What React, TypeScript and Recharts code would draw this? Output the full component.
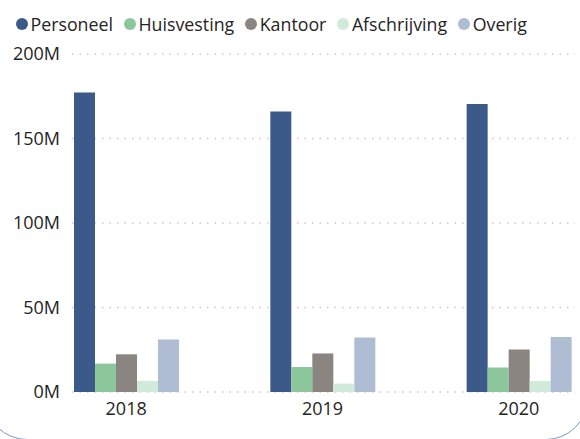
import React from "react";
import { BarChart, Bar, XAxis, YAxis, CartesianGrid } from "recharts";

const years = ["2018", "2019", "2020"];
const personeel = [177.2, 166.0, 170.4];
const huisvesting = [16.8, 14.8, 14.5];
const kantoor = [22.3, 22.8, 25.1];
const afschrijving = [6.5, 5.0, 6.5];
const overig = [31.1, 32.2, 32.6];
const yTicks = [0, 50, 100, 150, 200];

const seriesNames = ["Personeel", "Huisvesting", "Kantoor", "Afschrijving", "Overig"];
const seriesColors = ["#3b5a8a", "#8cc79b", "#8b8581", "#d2eada", "#afbdd4"];
const seriesValues = [personeel, huisvesting, kantoor, afschrijving, overig];

const data = years.map((y, i) => {
  const row: Record<string, number | string> = { year: y };
  seriesNames.forEach((n, s) => {
    row[n] = seriesValues[s][i] * 1e6;
  });
  return row;
});

const FONT = "'Open Sans', 'Segoe UI', sans-serif";

export default function App() {
  return (
    <div
      style={{
        position: "absolute",
        left: 0,
        top: 0,
        width: 580,
        height: 439,
        overflow: "hidden",
        background: "#ffffff",
        fontFamily: FONT,
      }}
    >
      <div
        style={{
          position: "absolute",
          left: -15,
          top: -60,
          width: 603,
          height: 500,
          border: "1.5px solid #7d98bf",
          borderRadius: 42,
          boxSizing: "border-box",
        }}
      />
      <div
        style={{
          position: "absolute",
          left: 16,
          top: 13,
          display: "flex",
          alignItems: "center",
          fontSize: 17.8,
          color: "#252423",
          whiteSpace: "nowrap",
        }}
      >
        {seriesNames.map((n, i) => (
          <div key={n} style={{ display: "flex", alignItems: "center", marginRight: 11 }}>
            <span
              style={{
                display: "inline-block",
                width: 12,
                height: 12,
                borderRadius: 6,
                background: seriesColors[i],
                marginRight: 2.5,
              }}
            />
            <span style={{ lineHeight: "22px" }}>{n}</span>
          </div>
        ))}
      </div>
      <div style={{ position: "absolute", left: 0, top: 0 }}>
        <BarChart
          width={580}
          height={439}
          data={data}
          margin={{ top: 54, right: 5, bottom: 17, left: 0 }}
          barCategoryGap={46}
          barGap={0}
        >
          <CartesianGrid
            vertical={false}
            stroke="#c9c9c9"
            strokeDasharray="1.5 6"
            strokeWidth={1.5}
          />
          <XAxis
            dataKey="year"
            axisLine={false}
            tickLine={false}
            tickSize={0}
            tickMargin={10}
            height={30}
            padding={{ left: -44, right: -42 }}
            tick={{ fill: "#252423", fontSize: 18, fontFamily: FONT }}
          />
          <YAxis
            width={72}
            domain={[0, 200e6]}
            ticks={yTicks.map((t) => t * 1e6)}
            tickFormatter={(v: number) => `${Math.round(v / 1e6)}M`}
            axisLine={false}
            tickLine={false}
            tickSize={0}
            tickMargin={12}
            tick={{ fill: "#252423", fontSize: 18, fontFamily: FONT }}
          />
          {seriesNames.map((n, i) => (
            <Bar key={n} dataKey={n} fill={seriesColors[i]} isAnimationActive={false} />
          ))}
        </BarChart>
      </div>
    </div>
  );
}
